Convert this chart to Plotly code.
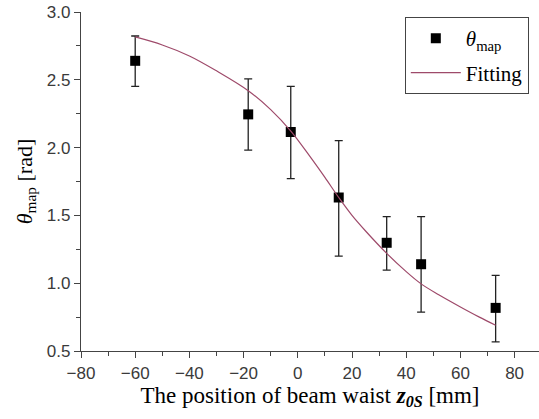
import plotly.graph_objects as go

# measured data
z_pos = [-60, -18.3, -2.6, 15.1, 32.8, 45.5, 73.0]
theta_map = [2.64, 2.245, 2.115, 1.632, 1.298, 1.14, 0.818]
err_plus = [0.183, 0.262, 0.337, 0.420, 0.193, 0.351, 0.240]
err_minus = [0.188, 0.263, 0.344, 0.432, 0.201, 0.354, 0.251]

# fitting curve
fit_x = [-60, -50, -40, -30, -18.3, -10, -2.5, 5, 10, 15.1, 20, 25, 32.8, 40, 45.5, 52, 60, 67, 73]
fit_y = [2.816, 2.757, 2.676, 2.566, 2.42, 2.28, 2.12, 1.92, 1.78, 1.632, 1.50, 1.385,
         1.22, 1.085, 0.995, 0.915, 0.825, 0.75, 0.69]

x_ticks = [-80, -60, -40, -20, 0, 20, 40, 60, 80]
y_ticks = [0.5, 1.0, 1.5, 2.0, 2.5, 3.0]

serif = "Liberation Serif, Times New Roman, serif"
sans = "Liberation Sans, Arial, sans-serif"

fig = go.Figure()
fig.add_trace(go.Scatter(
    x=z_pos, y=theta_map, mode="markers",
    marker=dict(symbol="square", size=10, color="black"),
    error_y=dict(type="data", array=err_plus, arrayminus=err_minus,
                 color="#222", thickness=1.3, width=4),
    name="<i>θ</i><sub>map</sub>", legendgroup="a",
))
fig.add_trace(go.Scatter(
    x=fit_x, y=fit_y, mode="lines",
    line=dict(color="#9E4A6A", width=1.2, shape="spline"),
    name="Fitting", legendgroup="b",
))

axis_common = dict(
    showline=True, linecolor="#444", linewidth=1.3, mirror=False,
    showgrid=False, zeroline=False, ticks="outside", ticklen=6,
    tickcolor="#444", tickwidth=1.2,
    tickfont=dict(family=sans, size=17, color="#3a3a3a"),
)

fig.update_layout(
    width=539, height=419,
    margin=dict(l=81, r=0, t=12, b=68),
    plot_bgcolor="white", paper_bgcolor="white",
    xaxis=dict(range=[-80, 89], tickvals=x_ticks,
               ticktext=["−80", "−60", "−40", "−20", "0", "20", "40", "60", "80"],
               minor=dict(dtick=10, ticks="outside", ticklen=4, tickcolor="#444"),
               title=dict(text="The position of beam waist <b><i>z<sub>0S</sub></i></b> [mm]",
                          font=dict(family=serif, size=23, color="black"), standoff=4),
               **axis_common),
    yaxis=dict(range=[0.5, 3.0], tickvals=y_ticks,
               ticktext=["0.5", "1.0", "1.5", "2.0", "2.5", "3.0"],
               minor=dict(dtick=0.25, ticks="outside", ticklen=4, tickcolor="#444"),
               title=dict(text="<i>θ</i><sub>map</sub> [rad]",
                          font=dict(family=serif, size=22, color="black"), standoff=8),
               **axis_common),
    legend=dict(x=0.707, y=0.985, xanchor="left", yanchor="top",
                bordercolor="#444", borderwidth=1, bgcolor="white",
                font=dict(family=serif, size=21, color="black"),
                itemwidth=50, tracegroupgap=4),
    showlegend=True,
)

fig.write_html("out.html")
